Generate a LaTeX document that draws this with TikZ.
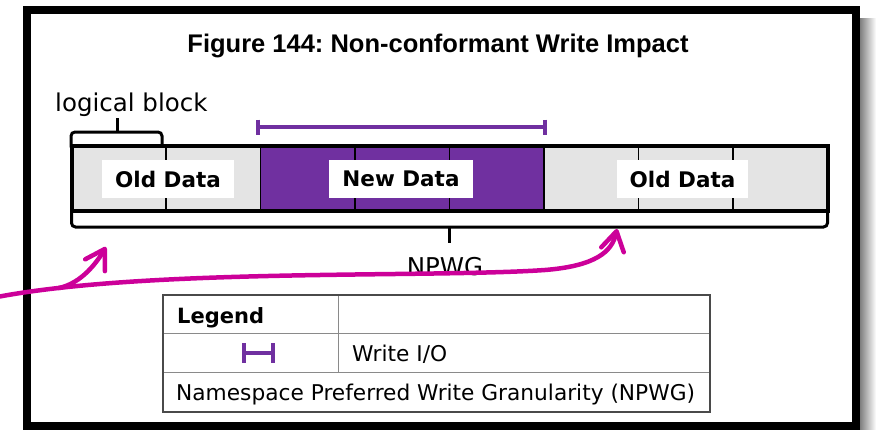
\documentclass[tikz,border=0pt]{standalone}
\usepackage{fontspec}
\setmainfont{DejaVu Sans}
\newfontfamily\titlefont{Liberation Sans}
\usetikzlibrary{arrows.meta}
\definecolor{npurple}{HTML}{7030A0}
\definecolor{ngray}{HTML}{E4E4E4}
\definecolor{nmagenta}{RGB}{204,0,153}
\definecolor{tblline}{HTML}{8A8A8A}
\definecolor{tblborder}{HTML}{4A4A4A}
\frenchspacing
\begin{document}
\begin{tikzpicture}[x=1pt,y=-1pt,
  labelbox/.style={fill=white, minimum height=38pt, inner sep=0pt, font=\bfseries\fontsize{21.5}{25}\selectfont},
  divline/.style={line width=1.5pt},
  bracketline/.style={line width=3pt, rounded corners=4pt, line cap=round},
  wio/.style={draw=npurple, line width=3.5pt},
  hl/.style={draw=nmagenta, line width=4.5pt, line cap=round, -{Straight Barb[length=19pt,width=23pt,round]}},
  plain/.style={font=\fontsize{24.5}{29}\selectfont, inner sep=0pt},
  tbltext/.style={font=\fontsize{21.7}{25}\selectfont, inner sep=0pt, anchor=base west},
  ]
\useasboundingbox (0,0) rectangle (879,429);
% frame shadow and frame
\shade[left color=black!50, right color=white] (860,18) rectangle (876,429);
\draw[line width=8pt] (27,10) rectangle (856,426);

% title
\node[anchor=base, inner sep=0pt, font=\titlefont\bfseries\fontsize{25.5}{30}\selectfont] (title) at (438,52) {Figure 144: Non-conformant Write Impact};

% logical block label and bracket
\node[plain, anchor=base west] (lblock) at (55,111) {logical block};
\coordinate (lbl) at (71,147);
\coordinate (lbr) at (162,147);
\coordinate (lbt) at (117,118);
\draw[bracketline] (lbl) -- (71,132) -- (162,132) -- (lbr);
\draw[line width=3pt] (117,132) -- (lbt);

% write I/O span
\coordinate (wa) at (258,127);
\coordinate (wb) at (545,127);
\draw[wio] (wa) -- (wb);
\draw[wio] (258,119.5) -- (258,134.5);
\draw[wio] (545,119.5) -- (545,134.5);

% bar
\fill[ngray] (71.5,146) rectangle (260.5,210.5);
\fill[npurple] (260.5,146) rectangle (544,210.5);
\fill[ngray] (544,146) rectangle (827.5,210.5);
\foreach \xx in {166,260.5,355,449.5,544,638.5,733}
  \draw[divline] (\xx,146) -- (\xx,210.5);
\draw[line width=4pt] (71.5,146) rectangle (827.5,210.5);

% labels
\node[labelbox, minimum width=132pt] (old1) at (168,179) {Old Data};
\node[labelbox, minimum width=144pt] (new) at (401,179) {New Data};
\node[labelbox, minimum width=131pt] (old2) at (682.5,179) {Old Data};

% NPWG bracket
\coordinate (nbl) at (71.5,212);
\coordinate (nbr) at (827.5,212);
\coordinate (nbt) at (449,243);
\draw[bracketline] (nbl) -- (71.5,227) -- (827.5,227) -- (nbr);
\draw[line width=3pt] (449,227) -- (nbt);
\node[plain, anchor=base] (npwg) at (445,275) {NPWG};

% magenta arrows
\coordinate (mstart) at (-3,297);
\coordinate (mmid) at (545,270);
\coordinate (mtipR) at (617,229);
\coordinate (mbranch) at (59,288);
\coordinate (mtipL) at (106,247);
\draw[hl] (mstart) .. controls (150,268) and (430,278) .. (mmid)
   .. controls (595,266) and (612,252) .. (mtipR);
\draw[hl] (mbranch) .. controls (82,283) and (97,262) .. (mtipL);

% legend table
\draw[tblline, line width=1pt] (163,333) -- (710,333);
\draw[tblline, line width=1pt] (163,372) -- (710,372);
\draw[tblline, line width=1pt] (338,295) -- (338,372);
\draw[tblborder, line width=1.5pt] (163,295) rectangle (710,412);
\node[tbltext, font=\bfseries\fontsize{21}{24}\selectfont] (legend) at (177,323) {Legend};
\coordinate (ia) at (244,353);
\coordinate (ib) at (273,353);
\draw[wio, line width=4pt] (ia) -- (ib);
\draw[wio, line width=4pt] (244,343) -- (244,363);
\draw[wio, line width=4pt] (273,343) -- (273,363);
\node[tbltext] (wiotext) at (352,361) {Write I/O};
\node[tbltext] (nstext) at (176,400) {Namespace Preferred Write Granularity (NPWG)};
\end{tikzpicture}
\end{document}
